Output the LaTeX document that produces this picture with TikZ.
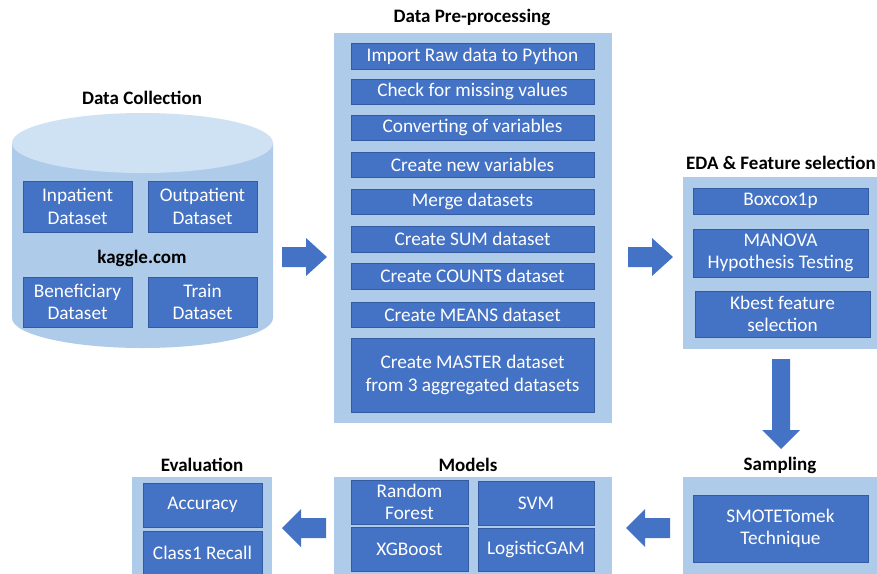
\documentclass[tikz,border=0pt]{standalone}
\usepackage{fontspec}
\setmainfont{Carlito}
\usetikzlibrary{positioning}
\definecolor{panel}{RGB}{174,204,234}
\definecolor{cyltop}{RGB}{207,226,243}
\definecolor{boxblue}{RGB}{68,114,196}
\definecolor{boxedge}{RGB}{52,90,160}
\tikzset{
  panelbox/.style={fill=panel, draw=none},
  darkbox/.style={fill=boxblue, draw=boxedge, line width=0.8pt, text=white, align=center,
    inner sep=0pt, font=\fontsize{19.3}{22.5}\selectfont},
  title/.style={font=\fontsize{19}{22}\selectfont\bfseries, text=black, inner sep=0pt},
  blockarrow/.style={fill=boxblue, draw=none},
}
\newcommand\rarrow[4]{% name, x0, x1, yc
  \fill[blockarrow] (#2,#4-10) -- (#3-21,#4-10) -- (#3-21,#4-19) -- (#3,#4) -- (#3-21,#4+19) -- (#3-21,#4+10) -- (#2,#4+10) -- cycle;
  \coordinate (#1) at ({(#2+#3)/2},#4);}
\newcommand\larrow[4]{% name, x0(tail), x1(head), yc
  \fill[blockarrow] (#2,#4-10) -- (#3+19,#4-10) -- (#3+19,#4-19) -- (#3,#4) -- (#3+19,#4+19) -- (#3+19,#4+10) -- (#2,#4+10) -- cycle;
  \coordinate (#1) at ({(#2+#3)/2},#4);}
\begin{document}
\begin{tikzpicture}[x=1pt,y=-1pt]
\useasboundingbox (0,0) rectangle (877,573);
% ---------- Data collection cylinder
\fill[panel] (12,143) -- (12,318) arc[start angle=180, end angle=0, x radius=130.5, y radius=30] -- (273,143) -- cycle;
\fill[cyltop] (142.5,143) ellipse[x radius=130.5, y radius=30];
\node[title] (tcol) at (142,98) {Data Collection};
\node[darkbox, minimum width=109pt, minimum height=51pt] (inp) at (77.5,206.5) {Inpatient\\Dataset};
\node[darkbox, minimum width=109pt, minimum height=51pt] (outp) at (202.5,206.5) {Outpatient\\Dataset};
\node[title] (kag) at (142,258) {kaggle.com};
\node[darkbox, minimum width=109pt, minimum height=50pt] (ben) at (77.5,302) {Beneficiary\\Dataset};
\node[darkbox, minimum width=109pt, minimum height=50pt] (train) at (202.5,302) {Train\\Dataset};
% ---------- Pre-processing
\node[title] (tpre) at (472,17) {Data Pre-processing};
\fill[panelbox] (334,33) rectangle (612,423);
\coordinate (pre) at (473,228);
\node[darkbox, minimum width=243pt, minimum height=26pt] (p1) at (472.5,56) {Import Raw data to Python};
\node[darkbox, minimum width=243pt, minimum height=25pt] (p2) at (472.5,91.5) {Check for missing values};
\node[darkbox, minimum width=243pt, minimum height=25pt] (p3) at (472.5,127.5) {Converting of variables};
\node[darkbox, minimum width=243pt, minimum height=25pt] (p4) at (472.5,164.5) {Create new variables};
\node[darkbox, minimum width=243pt, minimum height=25pt] (p5) at (472.5,201.5) {Merge datasets};
\node[darkbox, minimum width=243pt, minimum height=26pt] (p6) at (472.5,239) {Create SUM dataset};
\node[darkbox, minimum width=243pt, minimum height=26pt] (p7) at (472.5,276) {Create COUNTS dataset};
\node[darkbox, minimum width=243pt, minimum height=25pt] (p8) at (472.5,314.5) {Create MEANS dataset};
\node[darkbox, minimum width=243pt, minimum height=74pt] (p9) at (472.5,375) {Create MASTER dataset\\from 3 aggregated datasets};
% ---------- EDA
\node[title, anchor=west] (teda) at (686,163) {EDA \& Feature selection};
\fill[panelbox] (683,177) rectangle (880,349);
\node[darkbox, minimum width=175pt, minimum height=26pt] (e1) at (780.5,201) {Boxcox1p};
\node[darkbox, minimum width=175pt, minimum height=48pt] (e2) at (780.5,253) {MANOVA\\Hypothesis Testing};
\node[darkbox, minimum width=175pt, minimum height=46pt] (e3) at (782.5,314) {Kbest feature\\selection};
% ---------- Sampling
\node[title] (tsam) at (780,465) {Sampling};
\fill[panelbox] (683,477) rectangle (880,576);
\node[darkbox, minimum width=175pt, minimum height=67pt] (s1) at (780.5,528.5) {SMOTETomek\\Technique};
% ---------- Models
\node[title] (tmod) at (468,465) {Models};
\fill[panelbox] (334,477) rectangle (612,576);
\node[darkbox, minimum width=117pt, minimum height=44pt] (m1) at (409.5,502) {Random\\Forest};
\node[darkbox, minimum width=116pt, minimum height=44pt] (m2) at (536,503) {SVM};
\node[darkbox, minimum width=117pt, minimum height=44pt] (m3) at (409.5,549) {XGBoost};
\node[darkbox, minimum width=116pt, minimum height=43pt] (m4) at (536,549.5) {LogisticGAM};
% ---------- Evaluation
\node[title] (tev) at (202,465) {Evaluation};
\fill[panelbox] (132,477) rectangle (272,576);
\node[darkbox, minimum width=119pt, minimum height=44pt] (v1) at (202.5,505) {Accuracy};
\node[darkbox, minimum width=119pt, minimum height=44pt] (v2) at (202.5,553) {Class1 Recall};
% ---------- block arrows
\rarrow{a1}{282}{327}{257}
\rarrow{a2}{628}{673}{257}
\fill[blockarrow] (772,359) -- (790,359) -- (790,430) -- (800,430) -- (781,449) -- (762,430) -- (772,430) -- cycle;
\coordinate (a3) at (781,404);
\larrow{a4}{670}{626}{528}
\larrow{a5}{326}{282}{528}
\end{tikzpicture}
\end{document}
